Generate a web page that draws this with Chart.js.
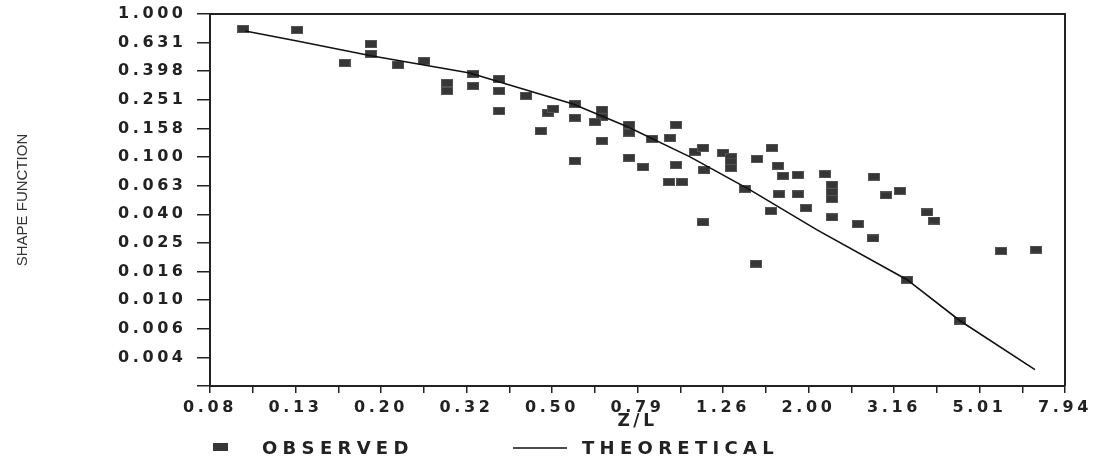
<!DOCTYPE html>
<html>
<head>
<meta charset="utf-8">
<script src="https://cdn.jsdelivr.net/npm/chart.js@4/dist/chart.umd.min.js"></script>
<style>
html, body { margin: 0; padding: 0; background: #fff; }
#wrap { width: 1094px; height: 461px; }
</style>
</head>
<body>
<div id="wrap"><canvas id="chart" width="1094" height="461"></canvas></div>
<script>
// observed points (Z/L, shape function)
const observedZL = [0.095, 0.127, 0.164, 0.189, 0.189, 0.219, 0.252, 0.285, 0.285, 0.328,
  0.328, 0.377, 0.377, 0.377, 0.436, 0.472, 0.491, 0.504, 0.567, 0.567,
  0.567, 0.656, 0.656, 0.632, 0.656, 0.759, 0.759, 0.759, 0.818, 0.859,
  0.946, 0.978, 0.978, 0.941, 1.010, 1.130, 1.083, 1.130, 1.137, 1.259,
  1.314, 1.314, 1.314, 1.417, 1.639, 1.512, 1.693, 1.739, 1.886, 1.702,
  1.886, 1.630, 1.969, 2.181, 2.265, 2.265, 2.265, 2.265, 2.605, 2.839,
  3.029, 3.266, 2.824, 3.778, 3.923, 1.504, 3.392, 4.511, 5.63, 6.80];
const observedShape = [0.786, 0.773, 0.455, 0.617, 0.526, 0.440, 0.470, 0.330, 0.290, 0.381,
  0.314, 0.352, 0.290, 0.210, 0.268, 0.152, 0.204, 0.217, 0.235, 0.188,
  0.094, 0.214, 0.191, 0.176, 0.130, 0.168, 0.148, 0.099, 0.085, 0.134,
  0.136, 0.168, 0.088, 0.067, 0.067, 0.035, 0.109, 0.116, 0.081, 0.107,
  0.100, 0.093, 0.084, 0.060, 0.116, 0.097, 0.087, 0.074, 0.075, 0.055,
  0.055, 0.042, 0.044, 0.076, 0.064, 0.057, 0.051, 0.038, 0.034, 0.073,
  0.054, 0.058, 0.027, 0.041, 0.036, 0.018, 0.0139, 0.0072, 0.0221, 0.0225];

// theoretical curve
const theoryZL = [0.096, 0.127, 0.189, 0.322, 0.378, 0.561, 0.755, 1.054, 1.456, 2.089, 3.392, 4.512, 6.757];
const theoryShape = [0.761, 0.648, 0.511, 0.387, 0.335, 0.235, 0.1625, 0.1003, 0.059, 0.0310, 0.01389, 0.00718, 0.00327];

// tick labels (log axes, 0.2 decade steps)
const xTickLabels = ['0.08', '0.13', '0.20', '0.32', '0.50', '0.79', '1.26', '2.00', '3.16', '5.01', '7.94'];
const yTickLabels = ['1.000', '0.631', '0.398', '0.251', '0.158', '0.100', '0.063', '0.040',
  '0.025', '0.016', '0.010', '0.006', '0.004'];

const ink = '#222';
const markerFill = '#363636';

// little rectangle used as the observed marker
function makeMarker(w, h) {
  const c = document.createElement('canvas');
  c.width = w; c.height = h;
  const g = c.getContext('2d');
  g.fillStyle = markerFill;
  g.fillRect(0, 0, w, h);
  g.strokeStyle = '#555';
  g.lineWidth = 1;
  g.strokeRect(0.5, 0.5, w - 1, h - 1);
  return c;
}
const marker = makeMarker(12, 8);

const observed = observedZL.map((x, i) => ({x: x, y: observedShape[i]}));
const theory = theoryZL.map((x, i) => ({x: x, y: theoryShape[i]}));

const tickFont = {family: '"DejaVu Sans", sans-serif', size: 16, weight: 'bold'};

// wide lettering of the original
const spacing = {
  id: 'spacing',
  beforeDraw(chart) { chart.ctx.letterSpacing = '3.6px'; }
};

// top/right frame, y title and legend
const extras = {
  id: 'extras',
  afterDraw(chart) {
    const ctx = chart.ctx;
    const a = chart.chartArea;
    ctx.save();
    ctx.letterSpacing = '0px';
    ctx.strokeStyle = ink;
    ctx.lineWidth = 2;
    ctx.beginPath();
    ctx.moveTo(a.left, a.top);
    ctx.lineTo(a.right, a.top);
    ctx.lineTo(a.right, a.bottom);
    ctx.stroke();

    ctx.save();
    ctx.translate(23, (a.top + a.bottom) / 2);
    ctx.rotate(-Math.PI / 2);
    ctx.font = '15px "Liberation Sans", sans-serif';
    ctx.fillStyle = '#333';
    ctx.textAlign = 'center';
    ctx.textBaseline = 'middle';
    ctx.fillText('SHAPE FUNCTION', 0, 0);
    ctx.restore();

    // legend
    ctx.font = 'bold 18px "DejaVu Sans", sans-serif';
    ctx.letterSpacing = '5.3px';
    ctx.textAlign = 'left';
    ctx.textBaseline = 'alphabetic';
    ctx.fillStyle = markerFill;
    ctx.fillRect(213, 443, 15, 8);
    ctx.fillStyle = ink;
    ctx.fillText(chart.data.datasets[1].label, 262, 454);
    ctx.strokeStyle = chart.data.datasets[0].borderColor;
    ctx.lineWidth = 1.6;
    ctx.beginPath();
    ctx.moveTo(513, 448);
    ctx.lineTo(567, 448);
    ctx.stroke();
    ctx.fillText(chart.data.datasets[0].label, 582, 454);
    ctx.restore();
  }
};

new Chart(document.getElementById('chart'), {
  type: 'scatter',
  data: {
    datasets: [{
      type: 'line',
      label: 'THEORETICAL',
      data: theory,
      borderColor: '#111',
      borderWidth: 1.6,
      pointRadius: 0,
      fill: false,
      tension: 0,
      order: 0
    }, {
      label: 'OBSERVED',
      data: observed,
      pointStyle: marker,
      pointRadius: 6,
      backgroundColor: markerFill,
      order: 1
    }]
  },
  options: {
    responsive: false,
    animation: false,
    devicePixelRatio: 1,
    layout: {padding: {left: 0, top: 14, right: 29, bottom: 0}},
    plugins: {legend: {display: false}, tooltip: {enabled: false}},
    scales: {
      x: {
        type: 'logarithmic',
        min: Math.pow(10, -1.1),
        max: Math.pow(10, 0.9),
        afterBuildTicks(scale) {
          const t = [];
          for (let i = 0; i <= 20; i++) t.push({value: Math.pow(10, -1.1 + 0.1 * i)});
          scale.ticks = t;
        },
        afterFit(scale) {
          scale.height = 75;
          scale.paddingLeft = 0;
          scale.paddingRight = 0;
        },
        border: {color: ink, width: 2},
        grid: {drawOnChartArea: false, drawTicks: true, tickLength: 7, color: ink, lineWidth: 1.5},
        ticks: {
          autoSkip: false, maxRotation: 0, minRotation: 0, padding: 5,
          color: ink, font: tickFont,
          callback(v) {
            const k = Math.round((Math.log10(v) + 1.1) / 0.1);
            return k % 2 === 0 ? xTickLabels[k / 2] : '';
          }
        },
        title: {
          display: true, text: 'Z/L', color: ink,
          font: {family: '"DejaVu Sans", sans-serif', size: 17, weight: 'bold'},
          padding: {top: 0, bottom: 29}
        }
      },
      y: {
        type: 'logarithmic',
        min: Math.pow(10, -2.6),
        max: 1,
        afterBuildTicks(scale) {
          const t = [];
          for (let i = 13; i >= 0; i--) t.push({value: Math.pow(10, -0.2 * i)});
          scale.ticks = t;
        },
        afterFit(scale) {
          scale.width = 210;
          scale.paddingTop = 0;
          scale.paddingBottom = 0;
        },
        border: {color: ink, width: 2},
        grid: {drawOnChartArea: false, drawTicks: true, tickLength: 13, color: ink, lineWidth: 1.5},
        ticks: {
          autoSkip: false, padding: 10.4,
          color: ink, font: tickFont,
          callback(v) {
            const k = Math.round(-Math.log10(v) / 0.2);
            return yTickLabels[k] !== undefined ? yTickLabels[k] : '';
          }
        }
      }
    }
  },
  plugins: [spacing, extras]
});
</script>
</body>
</html>
